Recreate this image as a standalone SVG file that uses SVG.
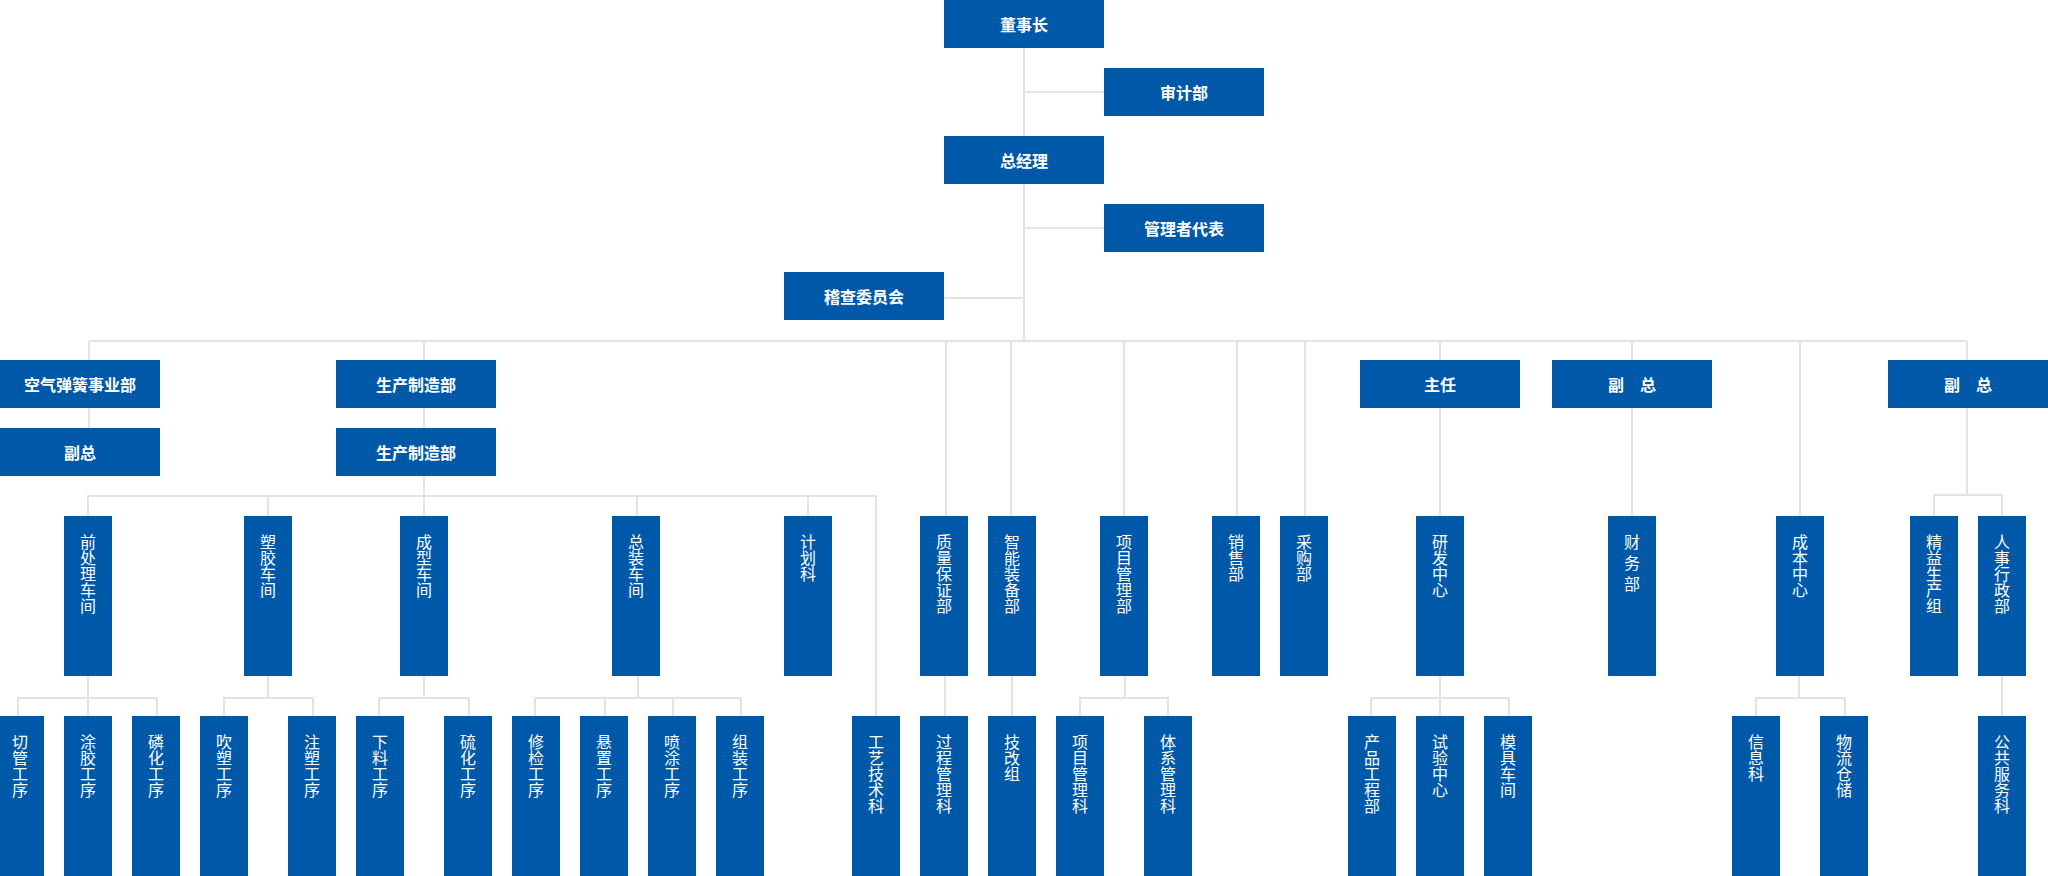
<svg xmlns="http://www.w3.org/2000/svg" width="2048" height="876" viewBox="0 0 2048 876">
<style>
rect { fill: #0058a9; }
.h { font-family: "Noto Sans CJK SC", "Noto Sans", sans-serif; font-size: 16px; font-weight: bold; fill: #fff; text-anchor: middle; dominant-baseline: central; }
.v { font-family: "Noto Sans CJK SC", "Noto Sans", sans-serif; font-size: 16px; fill: #fff; writing-mode: vertical-rl; }
#connectors path { stroke: #e3e3e3; stroke-width: 2; fill: none; }
</style>
<rect x="0" y="0" width="2048" height="876" style="fill:#fff"/>
<g id="connectors">
<path d="M1024 48V341M1024 92H1104M1024 228H1104M944 298H1024"/>
<path d="M89 341H1967"/>
<path d="M89 341V428M424 341V516M946 341V516M1011 341V516M1124 341V516M1237 341V516M1305 341V516M1440 341V516M1632 341V516M1800 341V516M1967 341V495"/>
<path d="M1934 516V495H2002V516"/>
<path d="M88 516V496H876V716M268 496V516M637 496V516M808 496V516"/>
<path d="M88 676V716M18 716V698H157V716"/>
<path d="M268 676V698M224 716V698H313V716"/>
<path d="M424 676V698M379 716V698H469V716"/>
<path d="M638 676V698M535 716V698H741V716M605 698V716M673 698V716"/>
<path d="M945 676V716M1012 676V716M2002 676V716"/>
<path d="M1125 676V698M1080 716V698H1168V716"/>
<path d="M1440 676V716M1371 716V698H1509V716"/>
<path d="M1799 676V698M1756 716V698H1845V716"/>
</g>
<g id="dongshizhang"><rect x="944" y="0" width="160" height="48"/><text class="h" x="1024" y="24">董事长</text></g>
<g id="shenjibu"><rect x="1104" y="68" width="160" height="48"/><text class="h" x="1184" y="92">审计部</text></g>
<g id="zongjingli"><rect x="944" y="136" width="160" height="48"/><text class="h" x="1024" y="160">总经理</text></g>
<g id="guanlizhedaibiao"><rect x="1104" y="204" width="160" height="48"/><text class="h" x="1184" y="228">管理者代表</text></g>
<g id="jicha"><rect x="784" y="272" width="160" height="48"/><text class="h" x="864" y="296">稽查委员会</text></g>
<g id="kongqi"><rect x="0" y="360" width="160" height="48"/><text class="h" x="80" y="384">空气弹簧事业部</text></g>
<g id="kongqi-fuzong"><rect x="0" y="428" width="160" height="48"/><text class="h" x="80" y="452">副总</text></g>
<g id="shengchan1"><rect x="336" y="360" width="160" height="48"/><text class="h" x="416" y="384">生产制造部</text></g>
<g id="shengchan2"><rect x="336" y="428" width="160" height="48"/><text class="h" x="416" y="452">生产制造部</text></g>
<g id="zhuren"><rect x="1360" y="360" width="160" height="48"/><text class="h" x="1440" y="384">主任</text></g>
<g id="fuzong1"><rect x="1552" y="360" width="160" height="48"/><text class="h" x="1632" y="384">副　总</text></g>
<g id="fuzong2"><rect x="1888" y="360" width="160" height="48"/><text class="h" x="1968" y="384">副　总</text></g>
<g id="qianchuli"><rect x="64" y="516" width="48" height="160"/><text class="v" x="88" y="534">前处理车间</text></g>
<g id="sujiao"><rect x="244" y="516" width="48" height="160"/><text class="v" x="268" y="534">塑胶车间</text></g>
<g id="chengxing"><rect x="400" y="516" width="48" height="160"/><text class="v" x="424" y="534">成型车间</text></g>
<g id="zongzhuang"><rect x="612" y="516" width="48" height="160"/><text class="v" x="636" y="534">总装车间</text></g>
<g id="jihua"><rect x="784" y="516" width="48" height="160"/><text class="v" x="808" y="534">计划科</text></g>
<g id="zhiliang"><rect x="920" y="516" width="48" height="160"/><text class="v" x="944" y="534">质量保证部</text></g>
<g id="zhineng"><rect x="988" y="516" width="48" height="160"/><text class="v" x="1012" y="534">智能装备部</text></g>
<g id="xiangmu"><rect x="1100" y="516" width="48" height="160"/><text class="v" x="1124" y="534">项目管理部</text></g>
<g id="xiaoshou"><rect x="1212" y="516" width="48" height="160"/><text class="v" x="1236" y="534">销售部</text></g>
<g id="caigou"><rect x="1280" y="516" width="48" height="160"/><text class="v" x="1304" y="534">采购部</text></g>
<g id="yanfa"><rect x="1416" y="516" width="48" height="160"/><text class="v" x="1440" y="534">研发中心</text></g>
<g id="caiwu"><rect x="1608" y="516" width="48" height="160"/><text class="v" x="1632" y="534" letter-spacing="5">财务部</text></g>
<g id="chengben"><rect x="1776" y="516" width="48" height="160"/><text class="v" x="1800" y="534">成本中心</text></g>
<g id="jingyi"><rect x="1910" y="516" width="48" height="160"/><text class="v" x="1934" y="534">精益生产组</text></g>
<g id="renshi"><rect x="1978" y="516" width="48" height="160"/><text class="v" x="2002" y="534">人事行政部</text></g>
<g id="qieguan"><rect x="-4" y="716" width="48" height="160"/><text class="v" x="20" y="734">切管工序</text></g>
<g id="tujiao"><rect x="64" y="716" width="48" height="160"/><text class="v" x="88" y="734">涂胶工序</text></g>
<g id="linhua"><rect x="132" y="716" width="48" height="160"/><text class="v" x="156" y="734">磷化工序</text></g>
<g id="chuisu"><rect x="200" y="716" width="48" height="160"/><text class="v" x="224" y="734">吹塑工序</text></g>
<g id="zhusu"><rect x="288" y="716" width="48" height="160"/><text class="v" x="312" y="734">注塑工序</text></g>
<g id="xialiao"><rect x="356" y="716" width="48" height="160"/><text class="v" x="380" y="734">下料工序</text></g>
<g id="liuhua"><rect x="444" y="716" width="48" height="160"/><text class="v" x="468" y="734">硫化工序</text></g>
<g id="xiujian"><rect x="512" y="716" width="48" height="160"/><text class="v" x="536" y="734">修检工序</text></g>
<g id="xuanzhi"><rect x="580" y="716" width="48" height="160"/><text class="v" x="604" y="734">悬置工序</text></g>
<g id="pentu"><rect x="648" y="716" width="48" height="160"/><text class="v" x="672" y="734">喷涂工序</text></g>
<g id="zuzhuang"><rect x="716" y="716" width="48" height="160"/><text class="v" x="740" y="734">组装工序</text></g>
<g id="gongyi"><rect x="852" y="716" width="48" height="160"/><text class="v" x="876" y="734">工艺技术科</text></g>
<g id="guocheng"><rect x="920" y="716" width="48" height="160"/><text class="v" x="944" y="734">过程管理科</text></g>
<g id="jigai"><rect x="988" y="716" width="48" height="160"/><text class="v" x="1012" y="734">技改组</text></g>
<g id="xiangmuke"><rect x="1056" y="716" width="48" height="160"/><text class="v" x="1080" y="734">项目管理科</text></g>
<g id="tixi"><rect x="1144" y="716" width="48" height="160"/><text class="v" x="1168" y="734">体系管理科</text></g>
<g id="chanpin"><rect x="1348" y="716" width="48" height="160"/><text class="v" x="1372" y="734">产品工程部</text></g>
<g id="shiyan"><rect x="1416" y="716" width="48" height="160"/><text class="v" x="1440" y="734">试验中心</text></g>
<g id="moju"><rect x="1484" y="716" width="48" height="160"/><text class="v" x="1508" y="734">模具车间</text></g>
<g id="xinxi"><rect x="1732" y="716" width="48" height="160"/><text class="v" x="1756" y="734">信息科</text></g>
<g id="wuliu"><rect x="1820" y="716" width="48" height="160"/><text class="v" x="1844" y="734">物流仓储</text></g>
<g id="gonggong"><rect x="1978" y="716" width="48" height="160"/><text class="v" x="2002" y="734">公共服务科</text></g>
</svg>
